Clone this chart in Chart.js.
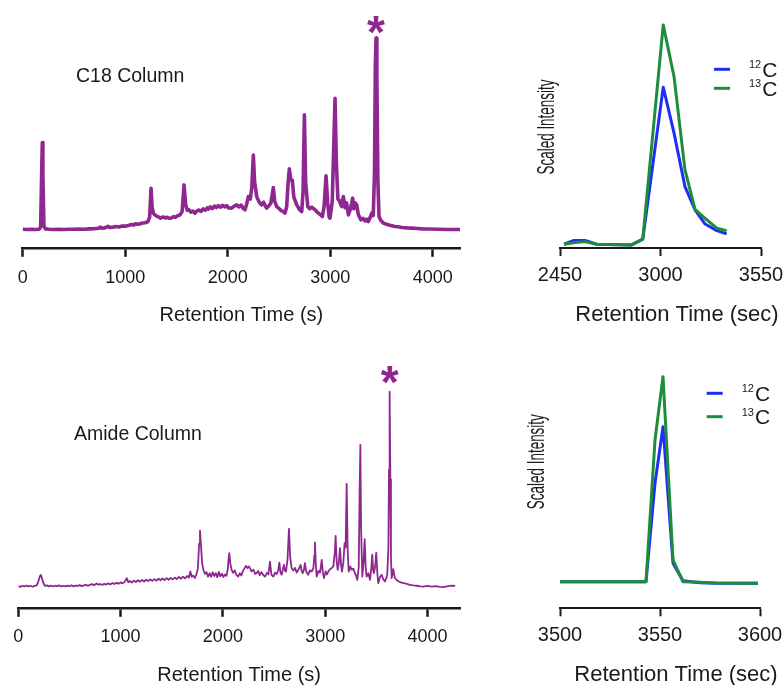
<!DOCTYPE html>
<html>
<head>
<meta charset="utf-8">
<title>C18 vs Amide chromatograms</title>
<script src="https://cdn.jsdelivr.net/npm/chart.js@4.4.0/dist/chart.umd.min.js"></script>
<style>
  html, body { margin: 0; padding: 0; background: #fff; }
  body { width: 784px; height: 685px; position: relative; overflow: hidden; }
  canvas { position: absolute; }
</style>
</head>
<body>
<canvas id="c18Chart" width="470" height="340" style="left:0;top:0"></canvas>
<canvas id="amideChart" width="470" height="345" style="left:0;top:350px"></canvas>
<canvas id="c18PeakChart" width="280" height="340" style="left:520px;top:0"></canvas>
<canvas id="amidePeakChart" width="280" height="345" style="left:520px;top:350px"></canvas>
<script>
const PURPLE = '#8e2790';
const BLUE = '#1f2ef5';
const GREEN = '#1d8c3b';
const INK = '#1a1a1a';
const FONT = "'Liberation Sans', Arial, Helvetica, sans-serif";

// C18 column total ion trace (retention time s, scaled signal)
const c18Time = [
  0, 40, 80, 120, 160, 175, 185, 191, 197, 207,
  220, 260, 300, 350, 400, 450, 500, 550, 600, 650,
  700, 740, 755, 770, 800, 832, 850, 880, 910, 940,
  970, 1000, 1030, 1062, 1080, 1100, 1130, 1160, 1193, 1220,
  1238, 1252, 1262, 1275, 1290, 1310, 1330, 1346, 1370, 1390,
  1410, 1430, 1453, 1470, 1490, 1510, 1535, 1555, 1574, 1590,
  1605, 1620, 1640, 1660, 1681, 1700, 1720, 1740, 1760, 1780,
  1800, 1811, 1830, 1850, 1870, 1890, 1909, 1930, 1950, 1970,
  1990, 2010, 2039, 2060, 2088, 2110, 2130, 2150, 2169, 2185,
  2201, 2220, 2235, 2250, 2262, 2283, 2300, 2315, 2332, 2350,
  2365, 2380, 2400, 2420, 2433, 2445, 2458, 2478, 2500, 2520,
  2540, 2559, 2575, 2590, 2601, 2615, 2630, 2645, 2673, 2700,
  2722, 2735, 2748, 2760, 2781, 2800, 2820, 2852, 2870, 2890,
  2910, 2923, 2940, 2959, 2975, 2990, 2998, 3020, 3035, 3047,
  3060, 3075, 3086, 3100, 3112, 3128, 3145, 3160, 3177, 3195,
  3210, 3219, 3230, 3245, 3258, 3275, 3300, 3320, 3340, 3355,
  3372, 3390, 3405, 3420, 3432, 3440, 3447, 3455, 3465, 3476,
  3495, 3518, 3550, 3580, 3610, 3632, 3660, 3700, 3750, 3795,
  3850, 3900, 3957, 4050, 4150, 4266
];
const c18Signal = [
  0.3, 0.2, 0.3, 0.2, 0.3, 1.5, 30, 45.5, 28, 2,
  0.5, 0.3, 0.2, 0.3, 0.2, 0.3, 0.3, 0.4, 0.3, 0.5,
  0.6, 0.8, 1.4, 0.9, 1.0, 1.8, 1.2, 1.4, 1.7, 1.5,
  2.0, 1.9, 2.3, 2.8, 2.4, 3.1, 2.9, 3.4, 3.7, 4.2,
  6.5, 21.7, 12, 8.5, 7.8, 7.0, 6.6, 6.1, 6.7, 6.2,
  6.5, 6.0, 6.2, 6.9, 6.5, 7.3, 7.8, 9.5, 23.4, 13,
  10.2, 10.6, 9.2, 9.8, 8.7, 9.9, 10.3, 9.6, 10.9, 10.2,
  11.4, 10.8, 11.9, 11.0, 12.4, 11.6, 12.6, 11.8, 12.8, 11.9,
  12.6, 11.4, 11.3, 12.2, 13.0, 11.9, 12.9, 11.2, 10.4, 13.5,
  17.3, 16.0, 22, 39, 25, 17.3, 15.2, 13.8, 13.0, 14.4,
  12.6, 11.3, 12.5, 13.8, 18, 22, 15, 12.1, 11.2, 10.0,
  9.6, 8.7, 12, 25, 31.8, 26, 26, 17, 13, 10.6,
  9.5, 20, 59.9, 25, 12.1, 11.0, 11.8, 10.4, 9.4, 8.5,
  7.6, 6.9, 12, 28.1, 14, 6.5, 6.1, 15, 45, 68.6,
  35, 16, 15.6, 13.5, 12.1, 17.3, 11.5, 14.0, 7.8, 10.5,
  14, 16.5, 11.0, 14.0, 13.0, 7.8, 5.2, 6.0, 4.6, 5.5,
  4.3, 6.5, 8.7, 7.5, 30, 85, 100, 80, 25, 6.9,
  4.8, 3.5, 2.9, 2.4, 2.0, 1.7, 1.6, 1.2, 1.0, 0.9,
  0.7, 0.5, 0.4, 0.3, 0.2, 0.2
];

// Amide column total ion trace
const amideTime = [
  0, 20, 40, 60, 80, 100, 120, 140, 160, 180,
  195, 210, 219, 230, 245, 261, 280, 300, 320, 340,
  360, 380, 400, 420, 440, 460, 480, 500, 520, 540,
  560, 580, 600, 620, 640, 660, 680, 700, 720, 740,
  766, 785, 800, 820, 840, 860, 880, 900, 920, 940,
  960, 980, 1000, 1020, 1040, 1060, 1075, 1090, 1110, 1130,
  1150, 1170, 1190, 1210, 1230, 1250, 1270, 1290, 1310, 1330,
  1350, 1370, 1390, 1410, 1430, 1450, 1470, 1490, 1510, 1530,
  1550, 1570, 1590, 1610, 1630, 1650, 1668, 1682, 1695, 1710,
  1725, 1740, 1755, 1768, 1776, 1785, 1797, 1809, 1825, 1840,
  1855, 1870, 1885, 1900, 1915, 1930, 1945, 1960, 1975, 1990,
  2005, 2020, 2035, 2048, 2057, 2063, 2072, 2085, 2100, 2115,
  2130, 2150, 2165, 2180, 2195, 2210, 2225, 2240, 2255, 2265,
  2280, 2300, 2315, 2330, 2345, 2360, 2375, 2395, 2412, 2430,
  2445, 2460, 2475, 2493, 2510, 2525, 2540, 2552, 2563, 2575,
  2587, 2597, 2608, 2617, 2632, 2646, 2658, 2672, 2690, 2705,
  2721, 2740, 2760, 2770, 2780, 2792, 2802, 2815, 2835, 2850,
  2868, 2885, 2894, 2900, 2908, 2917, 2935, 2950, 2966, 2978,
  2988, 3005, 3018, 3031, 3048, 3063, 3080, 3095, 3102, 3112,
  3122, 3133, 3145, 3155, 3164, 3177, 3190, 3200, 3210, 3220,
  3230, 3245, 3259, 3275, 3291, 3305, 3314, 3328, 3337, 3344,
  3351, 3363, 3375, 3386, 3396, 3405, 3422, 3438, 3450, 3460,
  3470, 3477, 3490, 3499, 3510, 3519, 3535, 3552, 3570, 3585,
  3598, 3607, 3618, 3624, 3630, 3637, 3643, 3650, 3666, 3680,
  3699, 3720, 3745, 3770, 3797, 3830, 3860, 3900, 3930, 3960,
  4000, 4040, 4080, 4120, 4155, 4190, 4220, 4252, 4270
];
const amideSignal = [
  0.3, -0.2, 0.4, 0.0, 0.5, 0.1, 0.4, -0.1, 0.3, 0.6,
  2.5, 5.2, 6.0, 4.5, 1.8, 0.3, 0.6, 0.1, 0.5, 0.0,
  0.4, 0.2, 0.6, 0.0, 0.4, 0.1, 0.5, 0.2, 0.6, 0.0,
  0.5, 0.3, 0.7, 0.2, 0.6, 0.9, 0.4, 0.8, 1.2, 0.7,
  1.6, 0.9, 1.3, 0.8, 1.4, 1.0, 1.6, 1.1, 1.8, 1.3,
  2.0, 1.4, 2.1, 1.6, 2.4, 4.3, 2.2, 2.8, 2.0, 3.0,
  2.3, 3.2, 2.5, 3.4, 2.6, 3.5, 2.8, 3.6, 2.9, 3.8,
  3.0, 4.0, 3.2, 4.1, 3.3, 4.3, 3.5, 4.4, 3.7, 4.6,
  3.8, 5.0, 4.0, 5.1, 4.2, 5.4, 4.6, 7.7, 5.0, 5.6,
  4.4, 6.0, 9, 22, 28.7, 22, 12, 8.6, 6.5, 7.4,
  5.1, 6.8, 5.0, 7.3, 5.4, 6.9, 4.8, 7.5, 5.2, 6.6,
  4.9, 6.2, 5.5, 9, 15, 17.1, 12, 8.6, 7.0, 8.3,
  6.1, 5.1, 6.8, 5.6, 7.9, 9.2, 10.6, 9.5, 10.3, 9.4,
  7.8, 8.6, 6.5, 6.9, 8.0, 5.8, 7.4, 5.9, 5.1, 7.0,
  6.2, 12.8, 6.0, 5.1, 7.2, 6.3, 8.1, 12.3, 7.0, 6.0,
  9.0, 11.1, 8.0, 7.7, 14, 29.6, 15, 9.4, 8.2, 9.6,
  7.2, 8.8, 11.1, 8.0, 6.9, 8.5, 12.0, 7.6, 6.0, 8.3,
  7.7, 9.5, 16, 22.6, 12, 5.1, 8.0, 7.1, 13.7, 7.0,
  4.3, 7.8, 6.2, 7.7, 9.0, 9.4, 10.5, 18, 26, 13,
  8.6, 12, 19.7, 11, 7.7, 12, 22.3, 20, 52.7, 18,
  7.7, 10.3, 8.6, 9.2, 6.9, 5.2, 3.4, 10, 50, 72.7,
  30, 5.1, 12, 24.3, 10, 5.1, 6.8, 3.4, 9, 16.3,
  8, 6.9, 11, 17.4, 7, 1.7, 4.8, 6.0, 3.5, 2.6,
  4.5, 6.0, 20, 60, 100, 55, 15, 4.3, 8.9, 4.5,
  3.4, 2.6, 2.0, 1.7, 1.4, 0.9, 0.6, 0.4, 0.1, 0.0,
  0.3, -0.1, 0.2, -0.2, -0.3, 0.1, 0.3, 0.5, 0.2
];

// extracted ion chromatograms of the starred peak, 12C vs 13C
const c18PeakTime = [2472, 2523, 2587, 2651, 2842, 2903, 3015, 3074, 3134, 3189, 3244, 3308, 3362];
const c18Peak12C = [0.3, 2.0, 2.0, 0.3, 0.0, 2.6, 71.7, 50.8, 26.5, 15.9, 9.5, 6.5, 5.0];
const c18Peak13C = [0.3, 1.0, 1.5, 0.3, 0.0, 2.6, 100, 76.5, 34.1, 16.2, 12.1, 7.6, 6.5];

const amidePeakTime = [3500, 3543, 3547.5, 3551.5, 3556.5, 3561.5, 3570, 3578, 3599];
const amidePeak12C = [0, 0, 48, 75.6, 9, 0.5, -0.5, -0.8, -0.8];
const amidePeak13C = [0, 0, 69.1, 100, 10.6, 0, -0.3, -0.6, -0.8];

const fullTicks = [0, 1000, 2000, 3000, 4000];
const c18PeakTicks = [2450, 3000, 3550];
const amidePeakTicks = [3500, 3550, 3600];
const isotopes = ['12', '13'];

Chart.defaults.font.family = FONT;
Chart.defaults.color = INK;

function points(xs, ys) {
    return xs.map((x, i) => ({ x: x, y: ys[i] }));
}

function timeAxis(min, max, tickValues, o) {
    return {
        type: 'linear',
        min: min,
        max: max,
        afterBuildTicks: scale => { scale.ticks = tickValues.map(v => ({ value: v })); },
        grid: { display: true, drawOnChartArea: false, drawTicks: true, tickLength: o.tickLength, tickWidth: o.lineWidth, tickColor: INK },
        border: { display: true, color: INK, width: o.lineWidth },
        ticks: { callback: v => String(v), font: { size: o.tickSize }, color: INK, padding: o.tickPad, maxRotation: 0, autoSkip: false },
        title: { display: !!o.title, text: o.title, font: { size: o.titleSize }, color: INK, padding: { top: o.titlePad, bottom: 2 } }
    };
}

// text and legend drawn on top of each panel
const panelNotes = {
    id: 'panelNotes',
    afterDatasetsDraw(chart, args, opts) {
        const ctx = chart.ctx;
        const xs = chart.scales.x, ys = chart.scales.y;
        ctx.save();
        if (opts.label) {
            ctx.font = '19.5px ' + FONT;
            ctx.fillStyle = INK;
            ctx.textAlign = 'left';
            ctx.textBaseline = 'middle';
            ctx.fillText(opts.label.text, opts.label.left, opts.label.top);
        }
        if (opts.star) {
            ctx.font = 'bold 46px ' + FONT;
            ctx.fillStyle = PURPLE;
            ctx.textAlign = 'center';
            ctx.textBaseline = 'alphabetic';
            ctx.fillText('*', xs.getPixelForValue(opts.star.x), ys.getPixelForValue(opts.star.y) + 26);
        }
        if (opts.xTitle) {
            ctx.font = '22px ' + FONT;
            ctx.fillStyle = INK;
            ctx.textAlign = 'center';
            ctx.textBaseline = 'middle';
            ctx.fillText(opts.xTitle.text, opts.xTitle.x, opts.xTitle.y);
        }
        if (opts.legend) {
            const L = opts.legend;
            chart.data.datasets.forEach((ds, i) => {
                const ly = L.top + i * L.gap;
                ctx.strokeStyle = ds.borderColor;
                ctx.lineWidth = 3;
                ctx.beginPath();
                ctx.moveTo(L.left, ly);
                ctx.lineTo(L.left + 16, ly);
                ctx.stroke();
                ctx.fillStyle = INK;
                ctx.textAlign = 'left';
                ctx.textBaseline = 'alphabetic';
                ctx.font = '11px ' + FONT;
                const tx = L.left + 35;
                ctx.fillText(ds.label, tx, ly - 1);
                const w = ctx.measureText(ds.label).width;
                ctx.font = '21px ' + FONT;
                ctx.fillText('C', tx + w + 1, ly + 7.5);
            });
        }
        if (opts.yTitle) {
            const T = opts.yTitle;
            ctx.translate(T.x, T.y);
            ctx.rotate(-Math.PI / 2);
            ctx.font = '24px ' + FONT;
            const w = ctx.measureText(T.text).width;
            ctx.scale(T.length / w, 1);
            ctx.fillStyle = INK;
            ctx.textAlign = 'center';
            ctx.textBaseline = 'middle';
            ctx.fillText(T.text, 0, 0);
        }
        ctx.restore();
    }
};

function traceChart(id, time, signal, cfg) {
    new Chart(document.getElementById(id), {
        type: 'line',
        data: {
            datasets: [{
                data: points(time, signal),
                borderColor: PURPLE,
                borderWidth: cfg.width,
                borderJoinStyle: 'round',
                pointRadius: 0,
                tension: 0
            }]
        },
        options: {
            responsive: false,
            animation: false,
            layout: { padding: cfg.padding },
            plugins: {
                legend: { display: false },
                tooltip: { enabled: false },
                panelNotes: { label: cfg.label, star: cfg.star }
            },
            scales: {
                x: timeAxis(0, cfg.xMax, fullTicks, { tickLength: 9, lineWidth: 2.5, tickSize: 18, tickPad: cfg.tickPad, title: 'Retention Time (s)', titleSize: 20, titlePad: cfg.titlePad }),
                y: { display: false, min: cfg.yMin, max: cfg.yMax }
            }
        },
        plugins: [panelNotes]
    });
}

function isotopeChart(id, time, light, heavy, ticks, cfg) {
    new Chart(document.getElementById(id), {
        type: 'line',
        data: {
            datasets: [
                { label: isotopes[0], data: points(time, light), borderColor: BLUE, borderWidth: 3, borderJoinStyle: 'round', pointRadius: 0, tension: 0, order: 1 },
                { label: isotopes[1], data: points(time, heavy), borderColor: GREEN, borderWidth: 3, borderJoinStyle: 'round', pointRadius: 0, tension: 0, order: 0 }
            ]
        },
        options: {
            responsive: false,
            animation: false,
            layout: { padding: cfg.padding },
            plugins: {
                legend: { display: false },
                tooltip: { enabled: false },
                panelNotes: { legend: cfg.legend, yTitle: cfg.yTitle, xTitle: cfg.xTitle }
            },
            scales: {
                x: timeAxis(ticks[0], ticks[ticks.length - 1], ticks, { tickLength: 8, lineWidth: 2, tickSize: 20, tickPad: 7 }),
                y: { display: false, min: cfg.yMin, max: cfg.yMax }
            }
        },
        plugins: [panelNotes]
    });
}

traceChart('c18Chart', c18Time, c18Signal, {
    width: 3.6, xMax: 4266, yMin: -9.375, yMax: 114.58,
    padding: { left: 22.7, right: 10, top: 10, bottom: 10.6 },
    tickPad: 10, titlePad: 5,
    label: { text: 'C18 Column', left: 76, top: 77 },
    star: { x: 3447, y: 108.4 }
});

traceChart('amideChart', amideTime, amideSignal, {
    width: 1.8, xMax: 4318, yMin: -10.92, yMax: 116.26,
    padding: { left: 18.3, right: 10, top: 10, bottom: 5.1 },
    tickPad: 9.5, titlePad: 6.5,
    label: { text: 'Amide Column', left: 74, top: 85 },
    star: { x: 3630, y: 110 }
});

isotopeChart('c18PeakChart', c18PeakTime, c18Peak12C, c18Peak13C, c18PeakTicks, {
    yMin: -1.4, yMax: 104.5,
    padding: { left: 40, right: 39, top: 15, bottom: 46 },
    legend: { left: 194, top: 69.3, gap: 19 },
    xTitle: { text: 'Retention Time (sec)', x: 157, y: 315 },
    yTitle: { text: 'Scaled Intensity', x: 27, y: 127, length: 95 }
});

isotopeChart('amidePeakChart', amidePeakTime, amidePeak12C, amidePeak13C, amidePeakTicks, {
    yMin: -12.98, yMax: 105.7,
    padding: { left: 40, right: 40, top: 15, bottom: 40.7 },
    legend: { left: 186.7, top: 43.3, gap: 23.4 },
    xTitle: { text: 'Retention Time (sec)', x: 156, y: 325 },
    yTitle: { text: 'Scaled Intensity', x: 17, y: 111.7, length: 95 }
});
</script>
</body>
</html>
